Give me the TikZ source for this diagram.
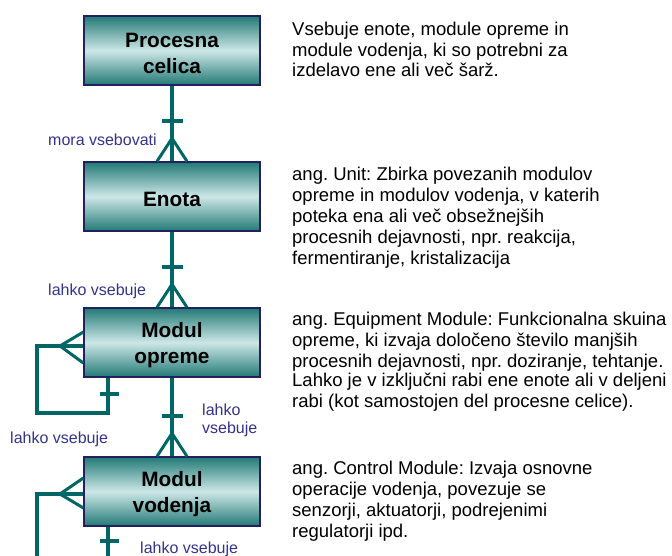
\documentclass[tikz,border=0pt]{standalone}
\usepackage{fontspec}
\setmainfont{Liberation Sans}
\usetikzlibrary{calc}
\frenchspacing

\definecolor{linkteal}{RGB}{0,102,102}
\definecolor{boxdark}{RGB}{34,122,118}
\definecolor{boxlight}{RGB}{205,231,231}
\definecolor{boxborder}{RGB}{36,32,96}
\definecolor{labelblue}{RGB}{51,51,140}

% invisible strut on the first line lowers the entity titles a little
\newcommand\titlestrut{\rule{0pt}{21pt}}

\tikzset{
  entity/.style={draw=boxborder, line width=1.3pt, minimum width=176pt, minimum height=69pt,
    top color=boxdark, bottom color=boxdark, middle color=boxlight,
    font=\fontsize{20.8}{26}\selectfont\bfseries, align=center, inner sep=0pt},
  link/.style={draw=linkteal, line width=4pt},
  foot/.style={draw=linkteal, line width=3pt},
  rel/.style={text=labelblue, font=\fontsize{16}{18.5}\selectfont, inner sep=0pt,
    anchor=base west, align=left},
  % the base anchor of a multi-line block sits on its last line
  desc/.style={font=\fontsize{18.5}{20.8}\selectfont, align=left, inner sep=0pt, anchor=base west},
}

\begin{document}
\begin{tikzpicture}[x=1pt, y=-1pt]
\useasboundingbox (0,0) rectangle (672,556);

% entities
\node[entity] (pc) at (172,50.5) {\titlestrut Procesna\\celica};
\node[entity] (en) at (172,196.5) {\titlestrut Enota};
\node[entity] (mo) at (172,342.5) {\titlestrut Modul\\opreme};
\node[entity] (mv) at (172,491.5) {\titlestrut Modul\\vodenja};

% one-to-many links between the levels
\foreach \a/\b in {pc/en, en/mo, mo/mv}{
  \draw[link] (\a.south) -- (\b.north);
  \draw[link] ($(\b.north)+(-10.5,-40)$) -- ($(\b.north)+(10.5,-40)$);
  \draw[foot] ($(\b.north)+(-15,0)$) -- ($(\b.north)+(0,-23)$) -- ($(\b.north)+(15,0)$);
}

% recursive link of the equipment module
\coordinate (mo1) at (37,346);
\coordinate (mo2) at (37,413);
\coordinate (mo3) at (108,413);
\coordinate (moA) at (60,346);
\draw[link] ($(mo.west)+(0,3.5)$) -- (mo1) -- (mo2) -- (mo3) -- (mo3 |- mo.south);
\draw[foot] ($(mo.west)+(0,-10.5)$) -- (moA) -- ($(mo.west)+(0,20.5)$);
\draw[link] ($(mo3)+(-8.5,-19)$) -- ($(mo3)+(10.5,-19)$);

% recursive link of the control module
\coordinate (mv1) at (37,494);
\coordinate (mv2) at (37,556);
\coordinate (mv3) at (108,556);
\coordinate (mvA) at (60,494);
\draw[link] ($(mv.west)+(0,2.5)$) -- (mv1) -- (mv2);
\draw[link] (mv3 |- mv.south) -- (mv3);
\draw[foot] ($(mv.west)+(0,-13.5)$) -- (mvA) -- ($(mv.west)+(0,16.5)$);
\draw[link] ($(mv3)+(-8.5,-15)$) -- ($(mv3)+(10.5,-15)$);

% relationship labels
\node[rel] (r1) at (48,146) {mora vsebovati};
\node[rel] (r2) at (48,295) {lahko vsebuje};
\node[rel] (r3) at (202,433.5) {lahko\\vsebuje};
\node[rel] (r4) at (10,443) {lahko vsebuje};
\node[rel] (r5) at (140,553) {lahko vsebuje};

% descriptions
\node[desc] (d1) at (292,77) {Vsebuje enote, module opreme in\\module vodenja, ki so potrebni za\\izdelavo ene ali več šarž.};
\node[desc] (d2) at (292,264) {ang. Unit: Zbirka povezanih modulov\\opreme in modulov vodenja, v katerih\\poteka ena ali več obsežnejših\\procesnih dejavnosti, npr. reakcija,\\fermentiranje, kristalizacija};
\node[desc] (d3) at (292,367) {ang. Equipment Module: Funkcionalna skuina\\opreme, ki izvaja določeno število manjših\\procesnih dejavnosti, npr. doziranje, tehtanje.};
\node[desc] (d3b) at (292,407) {Lahko je v izključni rabi ene enote ali v deljeni\\rabi (kot samostojen del procesne celice).};
\node[desc] (d4) at (292,537) {ang. Control Module: Izvaja osnovne\\operacije vodenja, povezuje se\\senzorji, aktuatorji, podrejenimi\\regulatorji ipd.};
\end{tikzpicture}
\end{document}
